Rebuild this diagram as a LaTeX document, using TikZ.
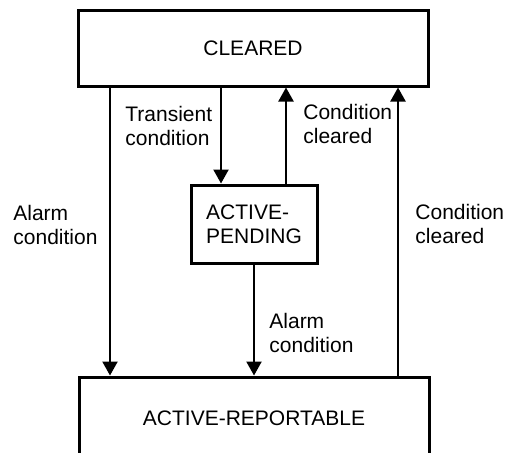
\documentclass[tikz,border=0pt]{standalone}
\usepackage{fontspec}
\setmainfont{Liberation Sans}
\usetikzlibrary{arrows.meta}

\begin{document}
\begin{tikzpicture}[x=0.5pt,y=-0.5pt,font=\fontsize{10.5}{12}\selectfont,
    >={Triangle[length=7pt,width=7.5pt]},
    state/.style={draw,line width=1.5pt,inner sep=0pt},
    flow/.style={->,line width=1.1pt},
    lbl/.style={anchor=west,align=left,inner sep=0pt}]
  \useasboundingbox (0,0) rectangle (506,452);
  \clip (0,0) rectangle (506,452);
  \node[state,minimum width=175pt,minimum height=38pt] (cleared) at (253,48) {CLEARED};
  \node[state,minimum width=63pt,minimum height=39pt,align=left] (pending) at (254,224) {ACTIVE-\\PENDING};
  \node[state,minimum width=175pt,minimum height=41pt] (reportable) at (254,418) {ACTIVE-REPORTABLE};
  \coordinate (alarm) at (110,0);
  \coordinate (trans) at (221,0);
  \coordinate (back) at (286,0);
  \coordinate (clear) at (398,0);
  \draw[flow] (cleared.south -| alarm) -- (reportable.north -| alarm);
  \draw[flow] (cleared.south -| trans) -- (pending.north -| trans);
  \draw[flow] (pending.north -| back) -- (cleared.south -| back);
  \draw[flow] (pending.south) -- (reportable.north -| pending.south);
  \draw[flow] (reportable.north -| clear) -- (cleared.south -| clear);
  \node[lbl] (l1) at (13,225) {Alarm\\condition};
  \node[lbl] (l2) at (125,126) {Transient\\condition};
  \node[lbl] (l3) at (303,124) {Condition\\cleared};
  \node[lbl] (l4) at (269,333) {Alarm\\condition};
  \node[lbl] (l5) at (415,224) {Condition\\cleared};
\end{tikzpicture}
\end{document}
